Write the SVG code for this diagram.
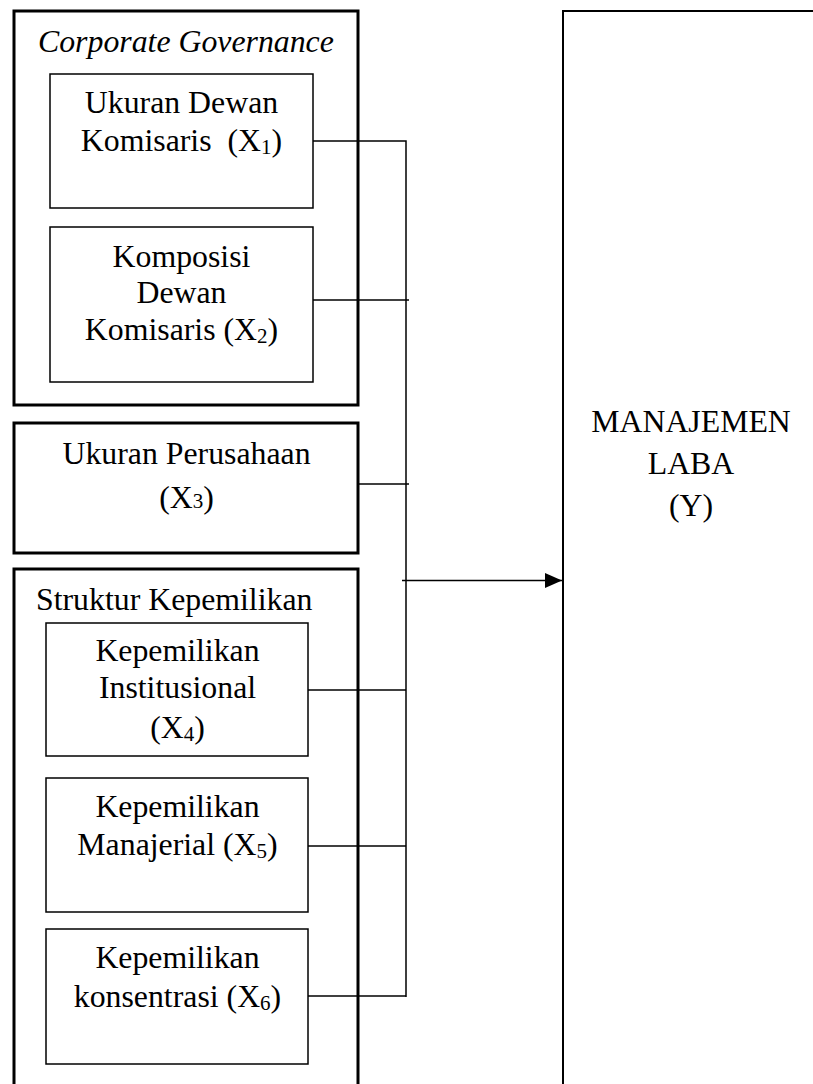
<svg xmlns="http://www.w3.org/2000/svg" width="813" height="1084" viewBox="0 0 813 1084">
<style>
.outer{fill:none;stroke:#000;stroke-width:3}
.inner{fill:none;stroke:#000;stroke-width:1.5}
.big{fill:none;stroke:#000;stroke-width:2}
.con{fill:none;stroke:#000;stroke-width:1.5}
text{font-family:"Liberation Serif","Times New Roman",serif;font-size:31.8px;fill:#000;white-space:pre}
.c{text-anchor:middle}
.sub{font-size:21px}
</style>
<defs>
<marker id="arr" viewBox="0 0 17 15" refX="17" refY="7.5" markerWidth="17" markerHeight="15" markerUnits="userSpaceOnUse" orient="auto">
<path d="M0,0 L17,7.5 L0,15 Z" fill="#000"/>
</marker>
</defs>
<rect width="813" height="1084" fill="#fff"/>

<g id="corporate-governance">
<rect class="outer" x="14" y="11" width="344" height="394"/>
<text x="38" y="52" font-style="italic">Corporate Governance</text>
</g>
<g id="x1">
<rect class="inner" x="50" y="74" width="263" height="134"/>
<text class="c" x="181.5" y="113">Ukuran Dewan</text>
<text class="c" x="181.5" y="151">Komisaris  (X<tspan class="sub" dy="3">1</tspan><tspan dy="-3">)</tspan></text>
</g>
<g id="x2">
<rect class="inner" x="50" y="227" width="263" height="155"/>
<text class="c" x="181.5" y="267">Komposisi</text>
<text class="c" x="181.5" y="303">Dewan</text>
<text class="c" x="181.5" y="340">Komisaris (X<tspan class="sub" dy="3">2</tspan><tspan dy="-3">)</tspan></text>
</g>
<g id="x3">
<rect class="outer" x="14" y="423" width="344" height="130"/>
<text class="c" x="186.5" y="464">Ukuran Perusahaan</text>
<text class="c" x="186.5" y="508">(X<tspan class="sub">3</tspan>)</text>
</g>
<g id="struktur-kepemilikan">
<path class="outer" d="M14,1090 L14,569 L358,569 L358,1090"/>
<text x="36" y="610">Struktur Kepemilikan</text>
</g>
<g id="x4">
<rect class="inner" x="46" y="623" width="262" height="133"/>
<text class="c" x="177.5" y="661">Kepemilikan</text>
<text class="c" x="177.5" y="698">Institusional</text>
<text class="c" x="177.5" y="738">(X<tspan class="sub" dy="3">4</tspan><tspan dy="-3">)</tspan></text>
</g>
<g id="x5">
<rect class="inner" x="46" y="778" width="262" height="134"/>
<text class="c" x="177.5" y="817">Kepemilikan</text>
<text class="c" x="177.5" y="855">Manajerial (X<tspan class="sub" dy="3">5</tspan><tspan dy="-3">)</tspan></text>
</g>
<g id="x6">
<rect class="inner" x="46" y="929" width="262" height="135"/>
<text class="c" x="177.5" y="968">Kepemilikan</text>
<text class="c" x="177.5" y="1007">konsentrasi (X<tspan class="sub" dy="3">6</tspan><tspan dy="-3">)</tspan></text>
</g>
<g id="y">
<path class="big" d="M563,1090 L563,11 L820,11"/>
<text class="c" x="691" y="432">MANAJEMEN</text>
<text class="c" x="691" y="474">LABA</text>
<text class="c" x="691" y="516">(Y)</text>
</g>

<g id="connectors">
<path class="con" d="M313,141 L406,141 L406,997"/>
<path class="con" d="M313,300 L409,300"/>
<path class="con" d="M358,484 L409,484"/>
<path class="con" d="M308,690 L406,690"/>
<path class="con" d="M308,846 L406,846"/>
<path class="con" d="M308,996 L406,996"/>
<path class="con" d="M402,580.5 L562,580.5" stroke-width="2" marker-end="url(#arr)"/>
</g>
</svg>
